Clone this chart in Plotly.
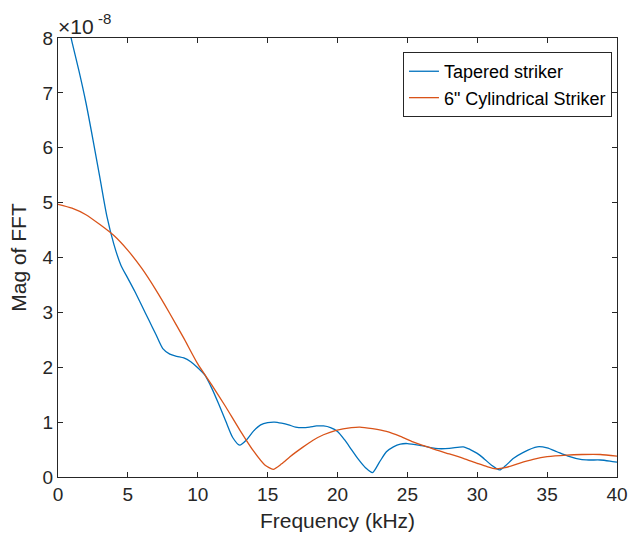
import plotly.graph_objects as go

# Frequency (kHz) and FFT magnitude (x1e-8)
tapered_f = [0, 0.5, 1.0, 1.5, 2.0, 2.5, 3.0, 3.5, 4.0, 4.5, 5.0, 5.5, 6.0, 6.5, 7.0, 7.5,
             8.0, 8.5, 9.0, 9.5, 10.0, 10.5, 11.0, 11.5, 12.0, 12.5, 13.0, 13.5, 14.0, 14.5,
             15.0, 15.5, 16.0, 16.5, 17.0, 17.5, 18.0, 18.5, 19.0, 19.5, 20.0, 20.5, 21.0,
             21.5, 22.0, 22.5, 23.0, 23.5, 24.0, 24.5, 25.0, 26.0, 27.0, 28.0, 29.0, 29.5,
             30.0, 30.5, 31.0, 31.6, 32.0, 32.6, 33.3, 34.3, 35.0, 35.7, 36.5, 37.4, 38.0,
             38.8, 39.5, 40.0]
tapered_mag = [9.05, 8.5, 7.93, 7.4, 6.82, 6.15, 5.45, 4.75, 4.24, 3.86, 3.62, 3.38, 3.12,
               2.86, 2.6, 2.34, 2.24, 2.2, 2.17, 2.1, 1.99, 1.86, 1.62, 1.33, 1.02, 0.72,
               0.58, 0.68, 0.84, 0.95, 0.99, 1.0, 0.98, 0.95, 0.91, 0.9, 0.91, 0.93, 0.93,
               0.9, 0.83, 0.68, 0.5, 0.32, 0.17, 0.08, 0.27, 0.46, 0.55, 0.6, 0.61, 0.57,
               0.52, 0.52, 0.55, 0.5, 0.43, 0.33, 0.22, 0.13, 0.2, 0.34, 0.45, 0.55, 0.53,
               0.46, 0.38, 0.32, 0.31, 0.31, 0.29, 0.27]

cyl_f = [0, 1, 2, 3, 4, 5, 6, 7, 8, 9, 10, 11, 12, 13, 14, 14.8, 15.4, 16.0, 16.6, 17.5,
         18.25, 19.0, 19.9, 21.0, 21.6, 22.5, 23.5, 24.5, 25.4, 26.3, 27.1, 28.0, 29.0,
         30.0, 30.7, 31.3, 32.0, 33.0, 34.0, 35.0, 36.4, 37.5, 38.8, 40.0]
cyl_mag = [4.97, 4.9, 4.78, 4.6, 4.4, 4.13, 3.8, 3.41, 2.98, 2.53, 2.06, 1.68, 1.28, 0.86,
           0.47, 0.22, 0.14, 0.24, 0.37, 0.54, 0.67, 0.77, 0.85, 0.9, 0.91, 0.88, 0.83,
           0.74, 0.64, 0.56, 0.49, 0.42, 0.34, 0.25, 0.19, 0.15, 0.17, 0.25, 0.32, 0.37,
           0.40, 0.41, 0.41, 0.38]

x_ticks = [0, 5, 10, 15, 20, 25, 30, 35, 40]
y_ticks = [0, 1, 2, 3, 4, 5, 6, 7, 8]

axis_color = "#262626"
font_family = "Liberation Sans, Arial, sans-serif"

fig = go.Figure()
fig.add_trace(go.Scatter(x=tapered_f, y=tapered_mag, mode="lines", name="Tapered striker",
                         line=dict(color="#0072BD", width=1.3, shape="spline", smoothing=0.7)))
fig.add_trace(go.Scatter(x=cyl_f, y=cyl_mag, mode="lines", name='6" Cylindrical Striker',
                         line=dict(color="#D95319", width=1.3, shape="spline", smoothing=0.6)))

axis_common = dict(showgrid=False, zeroline=False, showline=True, linecolor=axis_color,
                   linewidth=1, mirror="ticks", ticks="inside", ticklen=5, tickwidth=1,
                   tickcolor=axis_color, tickfont=dict(size=19, color=axis_color, family=font_family))

fig.update_xaxes(range=[0, 40], tickvals=x_ticks, ticktext=[str(v) for v in x_ticks],
                 title=dict(text="Frequency (kHz)", font=dict(size=21, color=axis_color, family=font_family),
                            standoff=9),
                 **axis_common)
fig.update_yaxes(range=[0, 8], tickvals=y_ticks, ticktext=[str(v) for v in y_ticks],
                 title=dict(text="Mag of FFT", font=dict(size=21, color=axis_color, family=font_family),
                            standoff=10),
                 **axis_common)

fig.add_annotation(text="×10", xref="paper", yref="paper", x=0, y=1.0,
                   xanchor="left", yanchor="bottom", showarrow=False, xshift=-2, yshift=-2,
                   font=dict(size=21, color=axis_color, family=font_family))
fig.add_annotation(text="-8", xref="paper", yref="paper", x=0.068, y=1.0,
                   xanchor="left", yanchor="bottom", showarrow=False, yshift=9,
                   font=dict(size=15, color=axis_color, family=font_family))

fig.update_layout(
    width=628, height=536,
    margin=dict(l=58, r=11, t=38, b=59, autoexpand=False),
    paper_bgcolor="white", plot_bgcolor="white",
    font=dict(family=font_family, color=axis_color),
    legend=dict(x=0.991, y=0.968, xanchor="right", yanchor="top",
                bgcolor="white", bordercolor=axis_color, borderwidth=1,
                font=dict(size=18, color="black", family=font_family),
                tracegroupgap=0, itemwidth=30),
    showlegend=True,
)

fig.write_html("out.html")
